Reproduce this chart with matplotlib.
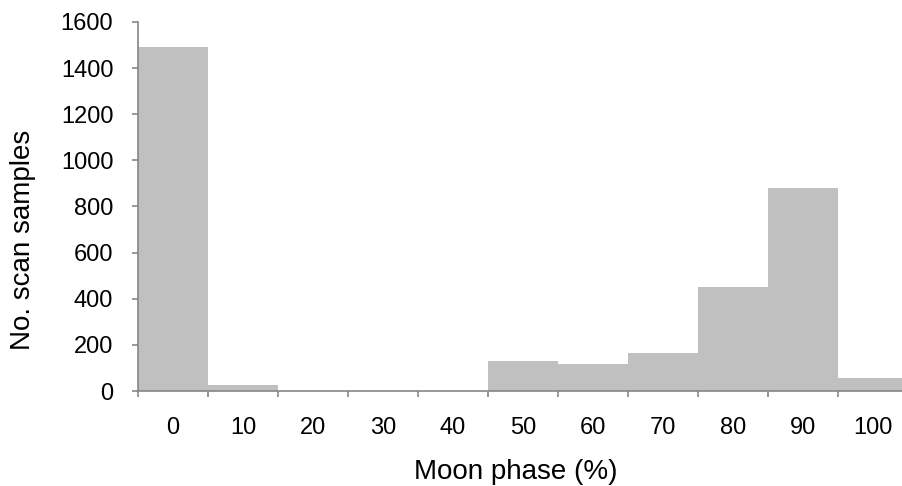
import numpy as np
import matplotlib
matplotlib.use("Agg")
import matplotlib.pyplot as plt

# moon phase classes (%) and number of scan samples in each
phases = [0, 10, 20, 30, 40, 50, 60, 70, 80, 90, 100]
samples = [1490, 26, 0, 0, 0, 131, 117, 163, 452, 882, 58]

plt.rcParams['font.family'] = ['Liberation Sans', 'DejaVu Sans']

W, H = 902, 486
fig = plt.figure(figsize=(W / 100, H / 100), dpi=100)
# axes box in pixels: left 138, right 908 (last bar runs off the edge), top 22, bottom 391
ax = fig.add_axes([138 / W, (H - 391) / H, 770 / W, 369 / H])

pos = np.arange(len(phases))
ax.bar(pos, samples, width=1.0, color='#c0c0c0', linewidth=0)

ax.set_xlim(-0.5, len(phases) - 0.5)
ax.set_ylim(0, 1600)
ax.set_yticks(range(0, 1601, 200))

# tick marks sit between the classes, labels at class centres
ax.set_xticks(pos - 0.5)
ax.set_xticklabels([])
ax.set_xticks(pos, minor=True)
ax.set_xticklabels([str(p) for p in phases], minor=True)

grey = '#868686'
for side in ['top', 'right']:
    ax.spines[side].set_visible(False)
for side in ['left', 'bottom']:
    ax.spines[side].set_color(grey)
    ax.spines[side].set_linewidth(1.2)

ax.tick_params(axis='y', which='major', direction='out', length=4.3, width=1.2,
               color=grey, pad=13.5, labelsize=17)
ax.tick_params(axis='x', which='major', direction='out', length=4.3, width=1.2,
               color=grey)
ax.tick_params(axis='x', which='minor', length=0, pad=19, labelsize=17)

fig.text(516 / W, 7 / H, 'Moon phase (%)', ha='center', va='baseline', fontsize=20)
fig.text(23 / W, (H - 240) / H, 'No. scan samples', rotation=90,
         ha='center', va='center', fontsize=20)

fig.savefig('out.png', dpi=100)
